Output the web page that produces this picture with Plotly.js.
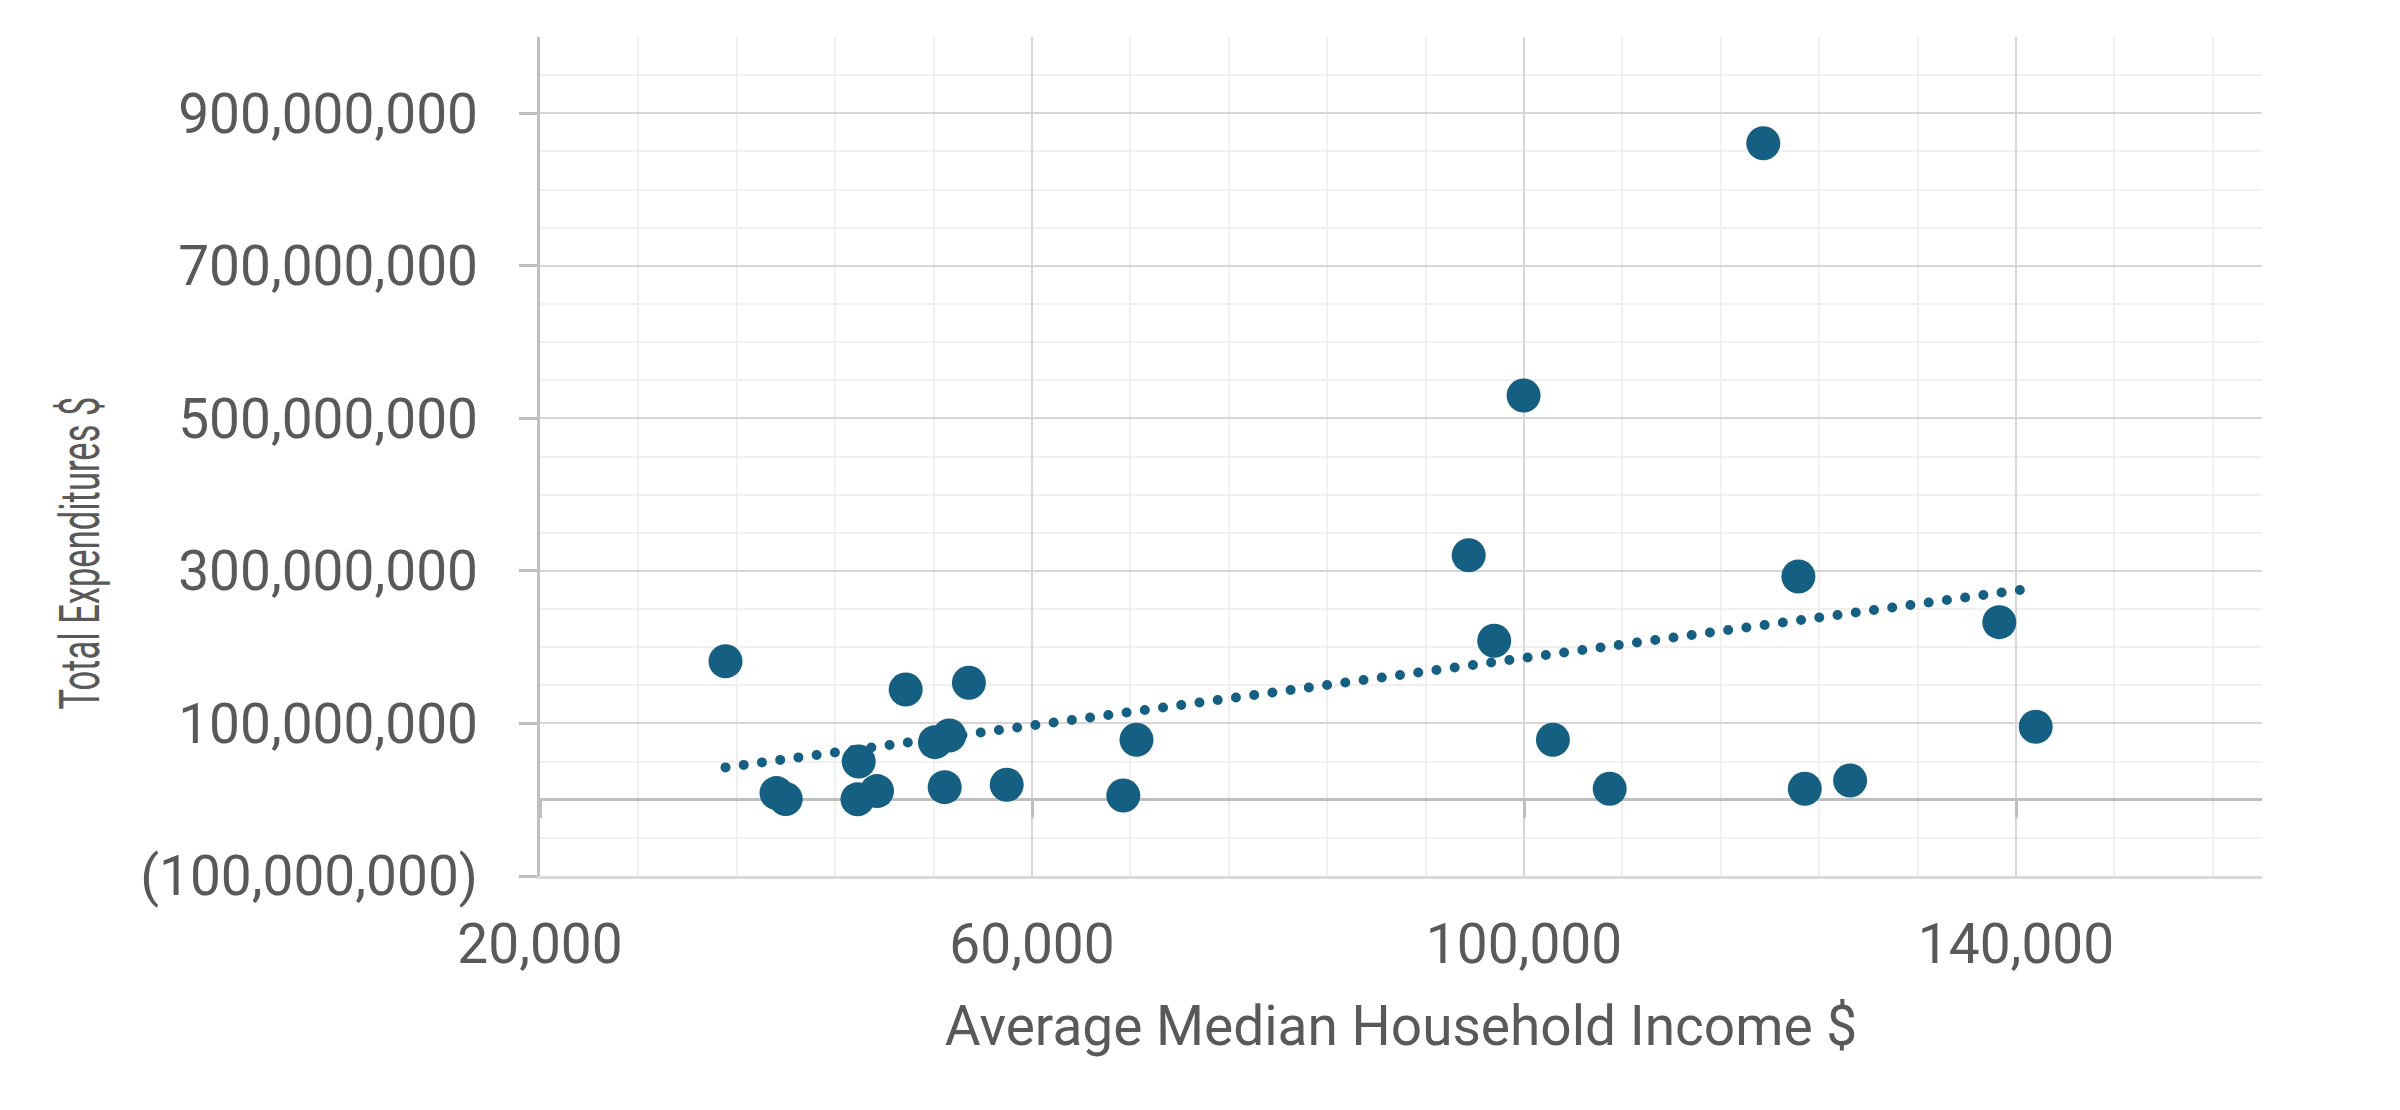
<!DOCTYPE html>
<html>
<head>
<meta charset="utf-8">
<script src="https://cdn.plot.ly/plotly-3.0.1.min.js"></script>
<style>
  html, body { margin: 0; padding: 0; background: #ffffff; }
  #chart { width: 2400px; height: 1110px; }
  .scatterlayer .trace.trend .js-line { stroke-linecap: round !important; }
</style>
</head>
<body>
<div id="chart"></div>
<script>
// Average median household income ($)
const incomeX = [35081, 39228, 39976, 45911, 45813, 47398, 49732, 52114, 53276, 52902,
                 54870, 57943, 67423, 68496, 95504, 97577, 99967, 102350, 106967, 119455,
                 122309, 122830, 126512, 138642, 141602];
// Total expenditures ($)
const expenditureY = [181600000, 8700000, 1000000, 50200000, 500000, 11300000, 144600000, 75500000, 84300000, 16500000,
                      153300000, 19700000, 5600000, 78600000, 320600000, 208400000, 529900000, 78600000, 14400000, 860600000,
                      292700000, 14400000, 25300000, 232800000, 95700000];

const xTickVals = [20000, 60000, 100000, 140000];
const xTickText = ['20,000', '60,000', '100,000', '140,000'];
const yTickVals = [-100000000, 100000000, 300000000, 500000000, 700000000, 900000000];
const yTickText = ['(100,000,000)', '100,000,000', '300,000,000', '500,000,000', '700,000,000', '900,000,000'];

const xTitle = 'Average Median Household Income $';
const yTitle = 'Total Expenditures $';

// linear trendline (least squares) from the data
const n = incomeX.length;
const mx = incomeX.reduce((a, b) => a + b, 0) / n;
const my = expenditureY.reduce((a, b) => a + b, 0) / n;
let sxy = 0, sxx = 0;
for (let i = 0; i < n; i++) { sxy += (incomeX[i] - mx) * (expenditureY[i] - my); sxx += (incomeX[i] - mx) ** 2; }
const slope = sxy / sxx, intercept = my - slope * mx;
const xMin = Math.min(...incomeX), xMax = Math.max(...incomeX);
const trendX = [xMin, xMax];
const trendY = trendX.map(v => intercept + slope * v);

const xRange = [20000, 160000];
const yRange = [-100000000, 1000000000];
const zeroPos = (0 - yRange[0]) / (yRange[1] - yRange[0]);

const navy = '#155f82';
const textColor = '#595959';
const font = 'Roboto, "Open Sans", sans-serif';

const traces = [
  { type: 'scatter', mode: 'lines', x: trendX, y: trendY, name: 'trend',
    line: { color: navy, width: 10, dash: '0px,18.4px' }, hoverinfo: 'skip', showlegend: false },
  { type: 'scatter', mode: 'markers', x: incomeX, y: expenditureY, name: 'data',
    marker: { color: navy, size: 34 }, showlegend: false },
  { type: 'scatter', mode: 'markers', x: incomeX, y: expenditureY, xaxis: 'x2', yaxis: 'y',
    marker: { opacity: 0 }, hoverinfo: 'skip', showlegend: false }
];

const layout = {
  width: 2400, height: 1110,
  margin: { l: 540, r: 138, t: 37, b: 234 },
  paper_bgcolor: '#ffffff', plot_bgcolor: '#ffffff',
  font: { family: font, size: 55, color: textColor },
  showlegend: false,
  xaxis: {
    range: xRange, tickmode: 'array', tickvals: xTickVals, ticktext: xTickText,
    showgrid: true, gridcolor: '#d6d6d6', gridwidth: 2,
    minor: { tickmode: 'linear', tick0: 20000, dtick: 8000, showgrid: true, gridcolor: '#f0f0f0', gridwidth: 2 },
    zeroline: false, showline: true, linecolor: '#d9d9d9', linewidth: 3,
    ticks: '', ticklabelstandoff: 18,
    tickfont: { family: font, size: 55, color: textColor },
    title: { text: xTitle, font: { family: font, size: 55, color: textColor }, standoff: 32 },
    automargin: false, fixedrange: true
  },
  xaxis2: {
    overlaying: 'x', matches: 'x', anchor: 'free', position: zeroPos, side: 'bottom',
    range: xRange, tickmode: 'array', tickvals: xTickVals, ticktext: xTickText,
    showgrid: false, zeroline: false, showline: false, showticklabels: false,
    ticks: 'outside', ticklen: 17, tickwidth: 3, tickcolor: '#bfbfbf', automargin: false
  },
  yaxis: {
    range: yRange, tickmode: 'array', tickvals: yTickVals, ticktext: yTickText,
    showgrid: true, gridcolor: '#d6d6d6', gridwidth: 2,
    minor: { tickmode: 'linear', tick0: -100000000, dtick: 50000000, showgrid: true, gridcolor: '#f0f0f0', gridwidth: 2 },
    zeroline: true, zerolinecolor: '#bfbfbf', zerolinewidth: 3,
    showline: true, linecolor: '#bfbfbf', linewidth: 3,
    ticks: 'outside', ticklen: 18, tickwidth: 3, tickcolor: '#bfbfbf',
    ticklabelstandoff: 30,
    tickfont: { family: font, size: 55, color: textColor },
    automargin: false, fixedrange: true
  },
  annotations: [{
    text: yTitle, xref: 'paper', yref: 'paper', x: -0.267, y: 0.385,
    xanchor: 'center', yanchor: 'middle', textangle: -90, showarrow: false,
    font: { family: font, size: 55, color: textColor }
  }]
};

Plotly.newPlot('chart', traces, layout, { displayModeBar: false, staticPlot: true }).then(function (gd) {
  try {
    const t = gd.querySelectorAll('.annotation-text');
    t.forEach(function (el) {
      el.setAttribute('textLength', '313');
      el.setAttribute('lengthAdjust', 'spacingAndGlyphs');
    });
    const tr = gd.querySelectorAll('.scatterlayer .trace');
    if (tr.length) tr[0].classList.add('trend');
  } catch (e) {}
});
</script>
</body>
</html>
